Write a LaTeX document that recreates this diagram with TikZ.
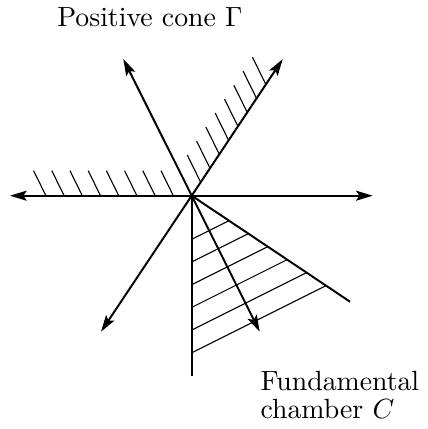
\documentclass[tikz,border=0pt]{standalone}
\usepackage{tikz}
\usetikzlibrary{arrows.meta}
\tikzset{
  ray/.style={-{Stealth[length=6pt,width=3.6pt,inset=1.2pt]}, line width=0.7pt},
  wall/.style={line width=0.7pt},
  hatch/.style={line width=0.4pt},
  note/.style={inner sep=0pt, font=\normalsize}
}

\begin{document}
\begin{tikzpicture}[x=0.36pt, y=0.36pt]
\useasboundingbox (-191.7,-233.3) rectangle (235.3,195.7);
% rays through the origin
\coordinate (O) at (0,0);
\coordinate (E) at (181,0);
\coordinate (W) at (-181.7,0);
\coordinate (NE) at (91,136.5);
\coordinate (SW) at (-90.7,-136);
\coordinate (NW) at (-68.4,136.7);
\coordinate (SE) at (68,-136);
\coordinate (S) at (0,-180.3);
\coordinate (C) at (158.3,-106);

\draw[ray] (O) -- (E);
\draw[ray] (O) -- (W);
\draw[ray] (O) -- (NE);
\draw[ray] (O) -- (SW);
\draw[ray] (O) -- (NW);
\draw[ray] (O) -- (SE);
\draw[wall] (O) -- (S);
\draw[wall] (O) -- (C);

% hatching of the positive cone
\foreach \s in {0,...,7}
  \draw[hatch] ({-18.4-18.2*\s},0) -- ++(-12.3,25);
\foreach \s in {0,...,7}
  \draw[hatch] ({0.554*(16.2+16.8*\s)},{0.832*(16.2+16.8*\s)}) -- ++(-13.4,27.2);

% hatching of the fundamental chamber
\foreach \y in {43.6,66.3,89,111.7,134.4,157.1}
  \draw[hatch] (0,-\y) -- ({\y/1.1697},{-\y+\y/2.3394});

\node[note, anchor=base west] (cone) at (-135,169) {Positive cone $\Gamma$};
\node[note, anchor=north west, align=left] (chamber) at (68.3,-175)
  {Fundamental\\[-1.8pt]chamber $C$};
\end{tikzpicture}
\end{document}
